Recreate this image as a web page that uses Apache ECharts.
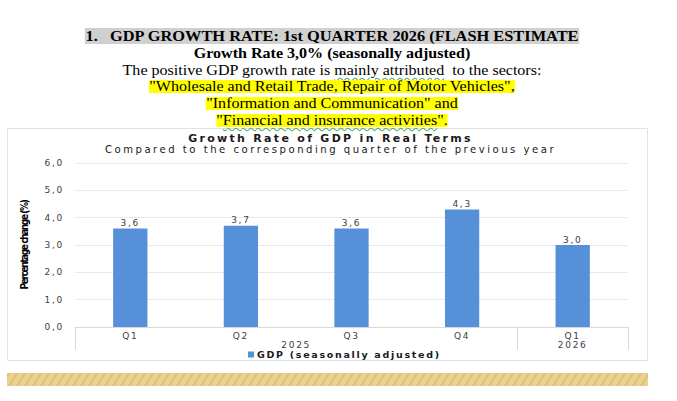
<!DOCTYPE html>
<html>
<head>
<meta charset="utf-8">
<script src="https://cdn.jsdelivr.net/npm/echarts@6/dist/echarts.min.js"></script>
<style>
  body { margin: 0; background: #fff; }
  #page { position: relative; width: 677px; height: 401px; overflow: hidden; }
  #chart { position: absolute; left: 0; top: 0; width: 677px; height: 401px; }
  /* the source chart's Verdana-style text is set wide */
  #chart text { letter-spacing: 1.7px; }
  #chart text[style*="11px"] { letter-spacing: 2.3px; }
  #chart text[style*="10.1px"] { letter-spacing: 2.5px; }
  #chart text[style*="Narrow"], #chart text[font-family*="Narrow"] { letter-spacing: -1.4px; }
  #head { position: absolute; left: 0; top: 28px; width: 664px; text-align: center;
          font-family: "Liberation Serif", "Times New Roman", serif; color: #000; z-index: 2;
          transform: scaleX(1.07); transform-origin: 332px 0; }
  #head div { height: 16.8px; line-height: 16.8px; white-space: nowrap; }
  .h1 { font-weight: bold; font-size: 15.3px; }
  .h1 span { background: #d0d0d0; padding: 0 1px; display: inline-block; line-height: 16px; }
  .h2 { font-weight: bold; font-size: 15px; }
  .h3 { font-size: 15px; }
  .hl > span { background: #ffff00; display: inline-block; line-height: 13px; }
  .wavy { text-decoration: underline wavy #5aa86a; text-decoration-thickness: 1px; text-underline-offset: 2px; }
</style>
</head>
<body>
<div id="page">
  <div id="chart"></div>
  <div id="head">
    <div class="h1"><span>1.&nbsp;&nbsp;&nbsp;GDP GROWTH RATE: 1st QUARTER 2026 (FLASH ESTIMATE</span></div>
    <div class="h2">Growth Rate 3,0% (seasonally adjusted)</div>
    <div class="h3">The positive GDP growth rate is <span class="wavy">mainly attributed</span>&nbsp; to the sectors:</div>
    <div class="h3 hl"><span>"Wholesale and Retail Trade, Repair of Motor Vehicles",</span></div>
    <div class="h3 hl"><span>"Information and Communication" and</span></div>
    <div class="h3 hl"><span>"<span class="wavy">Financial and insurance activities</span>".</span></div>
  </div>
</div>
<script>
var quarters = ['Q1', 'Q2', 'Q3', 'Q4', 'Q1'];
var growth = [3.6, 3.7, 3.6, 4.3, 3.0];
// year labels sit on half-quarter points: 2025 under Q1..Q4, 2026 under the last Q1
var yearSlots = ['', '', '', '', '2025', '', '', '', '', '2026', ''];
var yearBreaks = [0, 8, 10];
var seriesName = 'GDP (seasonally adjusted)';

function comma(v) {
    return Number(v).toFixed(1).replace('.', ',');
}

// striped gold band under the chart
var stripe = document.createElement('canvas');
stripe.width = 8;
stripe.height = 14;
var sctx = stripe.getContext('2d');
sctx.fillStyle = '#e9d18e';
sctx.fillRect(0, 0, 8, 14);
sctx.strokeStyle = '#dcc078';
sctx.lineWidth = 2;
sctx.beginPath();
sctx.moveTo(-2, 14);
sctx.lineTo(6, 0);
sctx.moveTo(6, 14);
sctx.lineTo(14, 0);
sctx.stroke();

var chart = echarts.init(document.getElementById('chart'), null, { renderer: 'svg' });
var option = {
    animation: false,
    title: {
        text: 'Growth Rate of GDP in Real Terms',
        subtext: 'Compared to the corresponding quarter of the previous year',
        left: 325.5,
        top: 128,
        textAlign: 'center',
        itemGap: 0,
        textStyle: {
            fontFamily: 'DejaVu Sans',
            fontWeight: 'bold',
            fontSize: 11,
            color: '#1a1a1a'
        },
        subtextStyle: {
            fontFamily: 'DejaVu Sans',
            fontSize: 10.1,
            color: '#1a1a1a'
        }
    },
    legend: {
        data: [seriesName],
        left: 243,
        top: 344.5,
        itemWidth: 6,
        itemHeight: 6,
        itemGap: 4,
        icon: 'rect',
        textStyle: {
            fontFamily: 'DejaVu Sans',
            fontWeight: 'bold',
            fontSize: 9.5,
            color: '#1a1a1a',
            padding: [0, 0, 0, -2]
        }
    },
    grid: {
        left: 75,
        right: 49,
        top: 163,
        bottom: 74,
        containLabel: false
    },
    xAxis: [{
        type: 'category',
        data: quarters,
        axisLine: { lineStyle: { color: '#d9d9d9' } },
        axisTick: { show: false },
        axisLabel: {
            interval: 0,
            margin: 4,
            fontFamily: 'DejaVu Sans',
            fontSize: 9,
            color: '#404040'
        }
    }, {
        type: 'category',
        position: 'bottom',
        boundaryGap: false,
        data: yearSlots,
        axisLine: { show: false },
        axisTick: {
            show: true,
            inside: false,
            length: 23,
            interval: function (i) { return yearBreaks.indexOf(i) >= 0; },
            lineStyle: { color: '#d9d9d9' }
        },
        axisLabel: {
            interval: 0,
            margin: 13,
            fontFamily: 'DejaVu Sans',
            fontSize: 9,
            color: '#404040'
        }
    }],
    yAxis: {
        type: 'value',
        min: 0,
        max: 6,
        interval: 1,
        name: 'Percentage change (%)',
        nameLocation: 'middle',
        nameRotate: 90,
        nameGap: 46,
        nameTextStyle: {
            fontFamily: 'Liberation Sans Narrow, DejaVu Sans Condensed, Liberation Sans',
            fontWeight: 'bold',
            fontSize: 10,
            color: '#000'
        },
        axisLine: { show: false },
        axisTick: { show: false },
        splitLine: { lineStyle: { color: '#e8e8e8' } },
        axisLabel: {
            margin: 11,
            fontFamily: 'DejaVu Sans',
            fontSize: 9,
            color: '#404040',
            formatter: comma
        }
    },
    series: [{
        name: seriesName,
        type: 'bar',
        data: growth,
        barWidth: '31%',
        itemStyle: { color: '#5690d9' },
        label: {
            show: true,
            position: 'top',
            distance: 1,
            fontFamily: 'DejaVu Sans',
            fontSize: 9,
            color: '#404040',
            formatter: function (p) { return comma(p.value); }
        }
    }],
    graphic: [{
        type: 'rect',
        shape: { x: 7.5, y: 128.5, width: 640, height: 232 },
        style: { fill: 'none', stroke: '#dbe3ee', lineWidth: 1 },
        silent: true
    }, {
        type: 'rect',
        shape: { x: 7, y: 373, width: 641, height: 13 },
        style: { fill: { image: stripe, repeat: 'repeat' } },
        silent: true
    }]
};
chart.setOption(option);
</script>
</body>
</html>
